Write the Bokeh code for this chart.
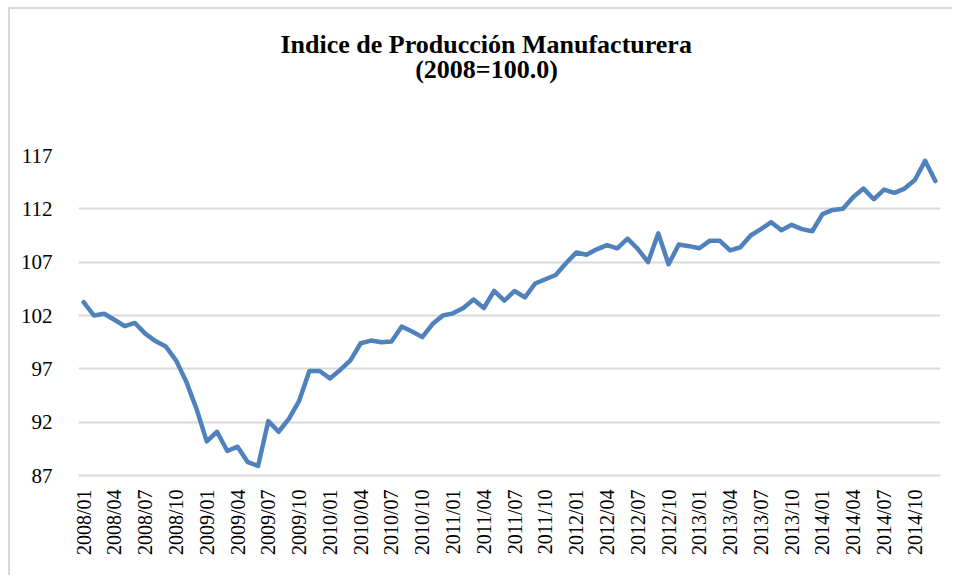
import math
from bokeh.plotting import figure
from bokeh.models import FixedTicker, Range1d, Title
from bokeh.embed import file_html
from bokeh.resources import INLINE

years = [2008, 2009, 2010, 2011, 2012, 2013, 2014]
months = [f"{y}/{m:02d}" for y in years for m in range(1, 13)]

index_values = [
    103.25, 102.0, 102.16, 101.6, 101.0, 101.3, 100.3, 99.6, 99.1, 97.8, 95.8, 93.25,
    90.2, 91.1, 89.3, 89.7, 88.25, 87.9, 92.1, 91.1, 92.3, 94.0, 96.8, 96.8,
    96.1, 96.9, 97.8, 99.4, 99.65, 99.5, 99.56, 100.97, 100.5, 99.97, 101.2, 102.0,
    102.2, 102.7, 103.5, 102.7, 104.3, 103.4, 104.3, 103.7, 105.0, 105.4, 105.8, 106.9,
    107.9, 107.7, 108.2, 108.6, 108.3, 109.2, 108.25, 107.0, 109.7, 106.8, 108.65, 108.5,
    108.3, 109.0, 109.0, 108.1, 108.4, 109.5, 110.1, 110.75, 110.0, 110.5, 110.1, 109.9,
    111.5, 111.9, 112.0, 113.1, 113.9, 112.9, 113.8, 113.5, 113.9, 114.7, 116.5, 114.6,
]

y_ticks = [87, 92, 97, 102, 107, 112, 117]
x_tick_positions = list(range(0, len(months), 3))
x_tick_labels = {i: months[i] for i in x_tick_positions}

title_line1 = "Indice de Producción Manufacturera"
title_line2 = "(2008=100.0)"

FONT = "Liberation Serif"
GRID = "#d9d9d9"

p = figure(
    width=944, height=568,
    output_backend="svg", toolbar_location=None,
    x_range=Range1d(-0.5, len(months) - 0.5),
    y_range=Range1d(87, 117),
    min_border_left=68, min_border_right=14,
    min_border_top=0, min_border_bottom=102,
    styles={"margin-left": "8px", "margin-top": "7px",
            "border-left": "2px solid #d9d9d9", "border-top": "2px solid #d9d9d9"},
)
p.title.text = ""
p.outline_line_color = None
p.background_fill_color = "white"
p.border_fill_color = "white"

x = list(range(len(months)))
p.line(x, index_values, line_color="#4F81BD", line_width=4.5, line_join="round", line_cap="round")

p.xgrid.grid_line_color = None
p.ygrid.ticker = FixedTicker(ticks=y_ticks)
p.ygrid.grid_line_color = GRID
p.ygrid.grid_line_width = 2

p.yaxis.ticker = FixedTicker(ticks=y_ticks)
p.yaxis.axis_line_color = None
p.yaxis.major_tick_line_color = None
p.yaxis.minor_tick_line_color = None
p.yaxis.major_label_text_font = FONT
p.yaxis.major_label_text_font_size = "21px"
p.yaxis.major_label_text_color = "black"
p.yaxis.major_label_standoff = 20

p.xaxis.ticker = FixedTicker(ticks=x_tick_positions)
p.xaxis.major_label_overrides = x_tick_labels
p.xaxis.major_label_orientation = math.pi / 2
p.xaxis.axis_line_color = GRID
p.xaxis.axis_line_width = 2
p.xaxis.major_tick_line_color = None
p.xaxis.minor_tick_line_color = None
p.xaxis.major_label_text_font = FONT
p.xaxis.major_label_text_font_size = "20px"
p.xaxis.major_label_text_color = "black"
p.xaxis.major_label_standoff = 8

def title_part(text, offset, standoff=0, size="26px"):
    return Title(text=text, align="left", offset=offset, standoff=standoff,
                 text_font=FONT, text_font_size=size, text_font_style="bold",
                 text_color="black")

# stacked from the frame outward
p.add_layout(title_part(" ", 0, standoff=68.5, size="1px"), "above")
p.add_layout(title_part(title_line2, 336.7), "above")
p.add_layout(title_part(title_line1, 202, standoff=-13), "above")
p.add_layout(title_part(" ", 0, standoff=22.2, size="1px"), "above")

open("out.html", "w").write(file_html(p, INLINE))
